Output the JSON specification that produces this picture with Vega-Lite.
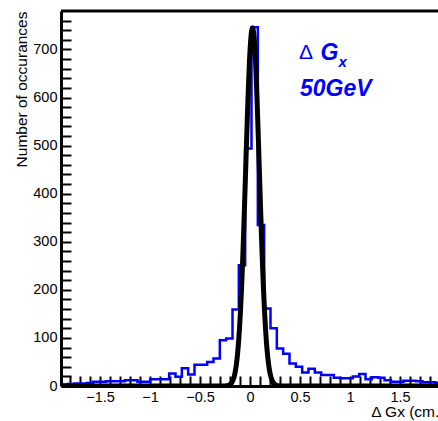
{
  "$schema": "https://vega.github.io/schema/vega-lite/v6.json",
  "width": 377,
  "height": 375,
  "autosize": {"type": "none"},
  "padding": {"left": 61, "top": 11, "right": 0, "bottom": 35},
  "background": "white",
  "config": {
    "view": {"stroke": null},
    "font": "Liberation Sans",
    "axis": {
      "grid": false,
      "domainColor": "black",
      "domainWidth": 3,
      "tickColor": "black",
      "tickWidth": 2,
      "labelColor": "black",
      "labelFont": "Liberation Sans",
      "labelFontSize": 14.5,
      "labelFlush": false,
      "labelOverlap": false,
      "titleColor": "black",
      "titleFont": "Liberation Sans",
      "titleFontWeight": "normal",
      "titleFontSize": 15
    }
  },
  "datasets": {
    "hist": [
      {"x0": -1.885, "n": 3}, {"x0": -1.8217, "n": 4}, {"x0": -1.7583, "n": 5}, {"x0": -1.695, "n": 5},
      {"x0": -1.6317, "n": 6}, {"x0": -1.5683, "n": 9}, {"x0": -1.505, "n": 9}, {"x0": -1.4417, "n": 10},
      {"x0": -1.3783, "n": 10}, {"x0": -1.315, "n": 10}, {"x0": -1.2517, "n": 12}, {"x0": -1.1883, "n": 12},
      {"x0": -1.125, "n": 9}, {"x0": -1.0617, "n": 9}, {"x0": -0.9983, "n": 14}, {"x0": -0.935, "n": 14},
      {"x0": -0.8717, "n": 14}, {"x0": -0.8083, "n": 26}, {"x0": -0.745, "n": 19}, {"x0": -0.6817, "n": 37},
      {"x0": -0.6183, "n": 24}, {"x0": -0.555, "n": 44}, {"x0": -0.4917, "n": 44}, {"x0": -0.4283, "n": 50},
      {"x0": -0.365, "n": 57}, {"x0": -0.3017, "n": 95}, {"x0": -0.2383, "n": 99}, {"x0": -0.175, "n": 159},
      {"x0": -0.1117, "n": 251}, {"x0": -0.0483, "n": 494}, {"x0": 0.015, "n": 746}, {"x0": 0.0783, "n": 335},
      {"x0": 0.1417, "n": 161}, {"x0": 0.205, "n": 120}, {"x0": 0.2683, "n": 78}, {"x0": 0.3317, "n": 67},
      {"x0": 0.395, "n": 47}, {"x0": 0.4583, "n": 40}, {"x0": 0.5217, "n": 28}, {"x0": 0.585, "n": 36},
      {"x0": 0.6483, "n": 28}, {"x0": 0.7117, "n": 23}, {"x0": 0.775, "n": 23}, {"x0": 0.8383, "n": 17},
      {"x0": 0.9017, "n": 16}, {"x0": 0.965, "n": 16}, {"x0": 1.0283, "n": 20}, {"x0": 1.0917, "n": 25},
      {"x0": 1.155, "n": 14}, {"x0": 1.2183, "n": 18}, {"x0": 1.2817, "n": 17}, {"x0": 1.345, "n": 12},
      {"x0": 1.4083, "n": 9}, {"x0": 1.4717, "n": 9}, {"x0": 1.535, "n": 11}, {"x0": 1.5983, "n": 11},
      {"x0": 1.6617, "n": 10}, {"x0": 1.725, "n": 8}, {"x0": 1.7883, "n": 8}, {"x0": 1.8517, "n": 7},
      {"x0": 1.915, "n": 7}
    ],
    "fit": [
      {"x": -1.9, "f": 0}, {"x": -0.275, "f": 0.04}, {"x": -0.255, "f": 0.15}, {"x": -0.235, "f": 0.5},
      {"x": -0.225, "f": 0.9}, {"x": -0.215, "f": 1.5}, {"x": -0.205, "f": 2.4}, {"x": -0.195, "f": 4.0},
      {"x": -0.185, "f": 6.3}, {"x": -0.175, "f": 9.9}, {"x": -0.165, "f": 15.0}, {"x": -0.155, "f": 22.4},
      {"x": -0.145, "f": 32.7}, {"x": -0.135, "f": 46.8}, {"x": -0.125, "f": 65.4}, {"x": -0.115, "f": 89.5},
      {"x": -0.105, "f": 119.8}, {"x": -0.095, "f": 157.0}, {"x": -0.085, "f": 201.4}, {"x": -0.075, "f": 252.6},
      {"x": -0.065, "f": 310.3}, {"x": -0.055, "f": 373.0}, {"x": -0.045, "f": 438.6}, {"x": -0.035, "f": 504.8},
      {"x": -0.025, "f": 568.6}, {"x": -0.015, "f": 626.6}, {"x": -0.005, "f": 675.9}, {"x": 0.005, "f": 713.5},
      {"x": 0.015, "f": 737.0}, {"x": 0.025, "f": 745.0}, {"x": 0.035, "f": 737.0}, {"x": 0.045, "f": 713.5},
      {"x": 0.055, "f": 675.9}, {"x": 0.065, "f": 626.6}, {"x": 0.075, "f": 568.6}, {"x": 0.085, "f": 504.8},
      {"x": 0.095, "f": 438.6}, {"x": 0.105, "f": 373.0}, {"x": 0.115, "f": 310.3}, {"x": 0.125, "f": 252.6},
      {"x": 0.135, "f": 201.4}, {"x": 0.145, "f": 157.0}, {"x": 0.155, "f": 119.8}, {"x": 0.165, "f": 89.5},
      {"x": 0.175, "f": 65.4}, {"x": 0.185, "f": 46.8}, {"x": 0.195, "f": 32.7}, {"x": 0.205, "f": 22.4},
      {"x": 0.215, "f": 15.0}, {"x": 0.225, "f": 9.9}, {"x": 0.235, "f": 6.3}, {"x": 0.245, "f": 4.0},
      {"x": 0.255, "f": 2.4}, {"x": 0.265, "f": 1.5}, {"x": 0.275, "f": 0.9}, {"x": 0.285, "f": 0.5},
      {"x": 0.305, "f": 0.15}, {"x": 0.325, "f": 0.04}, {"x": 1.9, "f": 0}
    ]
  },
  "layer": [
    {
      "data": {"name": "hist"},
      "mark": {"type": "line", "interpolate": "step-after", "color": "#0000ff", "strokeWidth": 2.5, "clip": true},
      "encoding": {
        "x": {
          "field": "x0", "type": "quantitative",
          "scale": {"domain": [-1.89, 1.88], "nice": false, "zero": false},
          "axis": {
            "values": [-1.8, -1.7, -1.6, -1.5, -1.4, -1.3, -1.2, -1.1, -1, -0.9, -0.8, -0.7, -0.6, -0.5, -0.4, -0.3, -0.2, -0.1, 0, 0.1, 0.2, 0.3, 0.4, 0.5, 0.6, 0.7, 0.8, 0.9, 1, 1.1, 1.2, 1.3, 1.4, 1.5, 1.6, 1.7, 1.8],
            "tickCount": 500,
            "labelExpr": "datum.value * 2 === round(datum.value * 2) ? format(datum.value, '~g') : ''",
            "labelOverlap": false,
            "tickSize": -10,
            "labelPadding": 14,
            "encode": {"ticks": {"update": {"y2": {"signal": "datum.value * 2 === round(datum.value * 2) ? -10 : -5"}}}},
            "title": "Δ Gx (cm.)",
            "titleAlign": "right",
            "titleBaseline": "alphabetic",
            "titleFontSize": 15.5,
            "titleX": 383,
            "titleY": 30
          }
        },
        "y": {
          "field": "n", "type": "quantitative",
          "scale": {"domain": [0, 780], "nice": false},
          "axis": {
            "values": [0, 20, 40, 60, 80, 100, 120, 140, 160, 180, 200, 220, 240, 260, 280, 300, 320, 340, 360, 380, 400, 420, 440, 460, 480, 500, 520, 540, 560, 580, 600, 620, 640, 660, 680, 700, 720, 740, 760],
            "tickCount": 500,
            "labelExpr": "datum.value % 100 === 0 ? datum.label : ''",
            "labelOverlap": false,
            "tickSize": -10,
            "labelPadding": 14,
            "encode": {"ticks": {"update": {"x2": {"signal": "datum.value % 100 === 0 ? 10 : 5"}}}},
            "title": "Number of occurances",
            "titleAngle": -90,
            "titleAlign": "right",
            "titleBaseline": "middle",
            "titleFontSize": 15.5,
            "titleX": -40,
            "titleY": 0
          }
        }
      }
    },
    {
      "data": {"name": "fit"},
      "mark": {"type": "line", "color": "black", "strokeWidth": 5, "clip": true, "interpolate": "monotone"},
      "encoding": {
        "x": {"field": "x", "type": "quantitative"},
        "y": {"field": "f", "type": "quantitative"}
      }
    },
    {
      "data": {"values": [{}]},
      "mark": {"type": "rule", "color": "black", "strokeWidth": 3},
      "encoding": {"y": {"datum": 780}}
    },
    {
      "data": {"values": [{"x": 0.49, "y": 680, "t": "Δ"}]},
      "mark": {"type": "text", "color": "#0000ff", "fontSize": 21, "align": "left", "baseline": "alphabetic", "font": "Liberation Sans"},
      "encoding": {"x": {"field": "x", "type": "quantitative"}, "y": {"field": "y", "type": "quantitative"}, "text": {"field": "t"}}
    },
    {
      "data": {"values": [{"x": 0.705, "y": 678, "t": "G"}, {"x": 0.5, "y": 603, "t": "50GeV"}]},
      "mark": {"type": "text", "color": "#0000ff", "fontSize": 23, "fontWeight": "bold", "fontStyle": "italic", "align": "left", "baseline": "alphabetic", "font": "Liberation Sans"},
      "encoding": {"x": {"field": "x", "type": "quantitative"}, "y": {"field": "y", "type": "quantitative"}, "text": {"field": "t"}}
    },
    {
      "data": {"values": [{"x": 0.885, "y": 664, "t": "x"}]},
      "mark": {"type": "text", "color": "#0000ff", "fontSize": 15, "fontWeight": "bold", "fontStyle": "italic", "align": "left", "baseline": "alphabetic", "font": "Liberation Sans"},
      "encoding": {"x": {"field": "x", "type": "quantitative"}, "y": {"field": "y", "type": "quantitative"}, "text": {"field": "t"}}
    }
  ]
}
